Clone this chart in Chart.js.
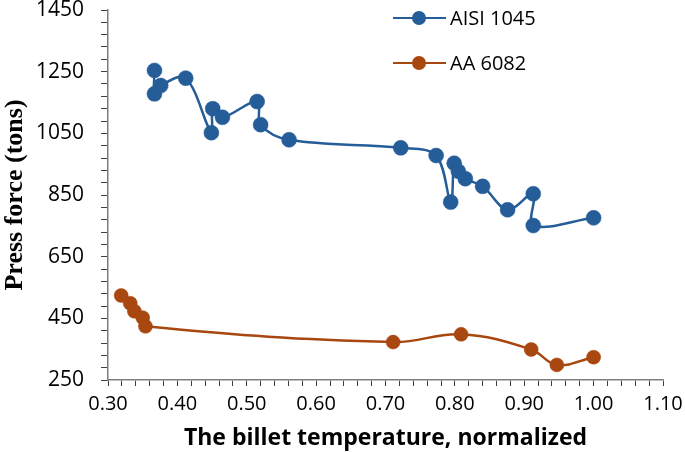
<!DOCTYPE html>
<html>
<head>
<meta charset="utf-8">
<script src="https://cdn.jsdelivr.net/npm/chart.js@4.4.1/dist/chart.umd.min.js"></script>
<style>
  html, body { margin: 0; padding: 0; background: #fff; }
  #wrap { width: 685px; height: 452px; }
</style>
</head>
<body>
<div id="wrap"><canvas id="chart" width="685" height="452"></canvas></div>
<script>
// Series
const aisiLabel = 'AISI 1045';
const aisiX = [0.367, 0.367, 0.376, 0.412, 0.449, 0.451, 0.465, 0.515, 0.520, 0.561, 0.722, 0.773, 0.794, 0.799, 0.805, 0.815, 0.840, 0.876, 0.913, 0.913, 1.000];
const aisiY = [1254, 1178, 1205, 1229, 1052, 1130, 1102, 1153, 1078, 1029, 1003, 978, 827, 953, 927, 903, 878, 802, 854, 751, 776];

const aaLabel = 'AA 6082';
const aaX = [0.319, 0.332, 0.338, 0.350, 0.354, 0.711, 0.809, 0.910, 0.947, 1.000];
const aaY = [524, 499, 473, 452, 424, 373, 398, 349, 299, 324];

// Axis ranges / labels
const xMin = 0.30, xMax = 1.10, xStep = 0.02;
const yMin = 250, yMax = 1450, yStep = 40;
const xTitle = 'The billet temperature, normalized';
const yTitle = 'Press force (tons)';

const blue = '#255d99';
const orange = '#a8470f';

function toPoints(xs, ys) {
  return xs.map((x, i) => ({ x: x, y: ys[i] }));
}

// simple legend drawn at the top right of the plot, like the original
const legendPlugin = {
  id: 'cornerLegend',
  afterDraw(chart) {
    const ctx = chart.ctx;
    const rows = [
      { label: aisiLabel, color: blue, y: 18 },
      { label: aaLabel, color: orange, y: 63 }
    ];
    ctx.save();
    rows.forEach(r => {
      ctx.strokeStyle = r.color;
      ctx.lineWidth = 2;
      ctx.beginPath();
      ctx.moveTo(393, r.y);
      ctx.lineTo(446, r.y);
      ctx.stroke();
      ctx.fillStyle = r.color;
      ctx.beginPath();
      ctx.arc(419, r.y, 7, 0, Math.PI * 2);
      ctx.fill();
      ctx.fillStyle = '#000';
      ctx.font = '20px "Open Sans"';
      ctx.textBaseline = 'middle';
      ctx.textAlign = 'left';
      ctx.fillText(r.label, 450, r.y + 1);
    });
    ctx.restore();
  }
};

new Chart(document.getElementById('chart').getContext('2d'), {
  type: 'scatter',
  data: {
    datasets: [{
      label: aisiLabel,
      data: toPoints(aisiX, aisiY),
      showLine: true,
      borderColor: blue,
      backgroundColor: blue,
      borderWidth: 2.5,
      pointRadius: 7.5,
      pointBackgroundColor: blue,
      pointBorderColor: blue,
      pointBorderWidth: 0.5,
      tension: 0.35
    }, {
      label: aaLabel,
      data: toPoints(aaX, aaY),
      showLine: true,
      borderColor: orange,
      backgroundColor: orange,
      borderWidth: 2.5,
      pointRadius: 7,
      pointBackgroundColor: orange,
      pointBorderColor: orange,
      pointBorderWidth: 0.5,
      tension: 0.4
    }]
  },
  options: {
    responsive: false,
    animation: false,
    layout: { padding: { top: 10, right: 22, left: 0, bottom: 0 } },
    plugins: {
      legend: { display: false },
      tooltip: { enabled: false }
    },
    scales: {
      x: {
        type: 'linear',
        min: xMin,
        max: xMax,
        afterFit: s => { s.height = 72; s.paddingRight = 0; s.paddingLeft = 0; },
        afterBuildTicks: s => {
          const t = [];
          for (let i = 0; i <= Math.round((xMax - xMin) / xStep); i++) t.push({ value: +(xMin + i * xStep).toFixed(2) });
          s.ticks = t;
        },
        ticks: {
          autoSkip: false,
          maxRotation: 0,
          padding: 6,
          color: '#000',
          font: { family: '"Open Sans"', size: 20 },
          callback: (v, i) => (i % 5 === 0 ? Number(v).toFixed(2) : '')
        },
        grid: { drawOnChartArea: false, drawTicks: true, tickLength: 6, color: '#404040', lineWidth: 1 },
        border: { display: true, color: '#7f7f7f', width: 1.5 },
        title: {
          display: true,
          text: xTitle,
          color: '#000',
          padding: { top: 0, bottom: 0 },
          font: { family: '"Open Sans"', size: 23, weight: 'bold' }
        }
      },
      y: {
        type: 'linear',
        min: yMin,
        max: yMax,
        afterFit: s => { s.width = 108; s.paddingTop = 0; s.paddingBottom = 0; },
        afterBuildTicks: s => {
          const t = [];
          for (let v = yMin; v <= yMax; v += yStep) t.push({ value: v });
          s.ticks = t;
        },
        ticks: {
          autoSkip: false,
          padding: 17,
          color: '#000',
          font: { family: '"Open Sans"', size: 21 },
          callback: v => ((v - yMin) % 200 === 0 ? String(v) : '')
        },
        grid: { drawOnChartArea: false, drawTicks: true, tickLength: 7, color: '#404040', lineWidth: 1 },
        border: { display: true, color: '#7f7f7f', width: 1.5 },
        title: {
          display: true,
          text: yTitle,
          color: '#000',
          padding: { top: 0, bottom: 0 },
          font: { family: '"Liberation Serif"', size: 26, weight: 'bold' }
        }
      }
    }
  },
  plugins: [legendPlugin]
});
</script>
</body>
</html>
